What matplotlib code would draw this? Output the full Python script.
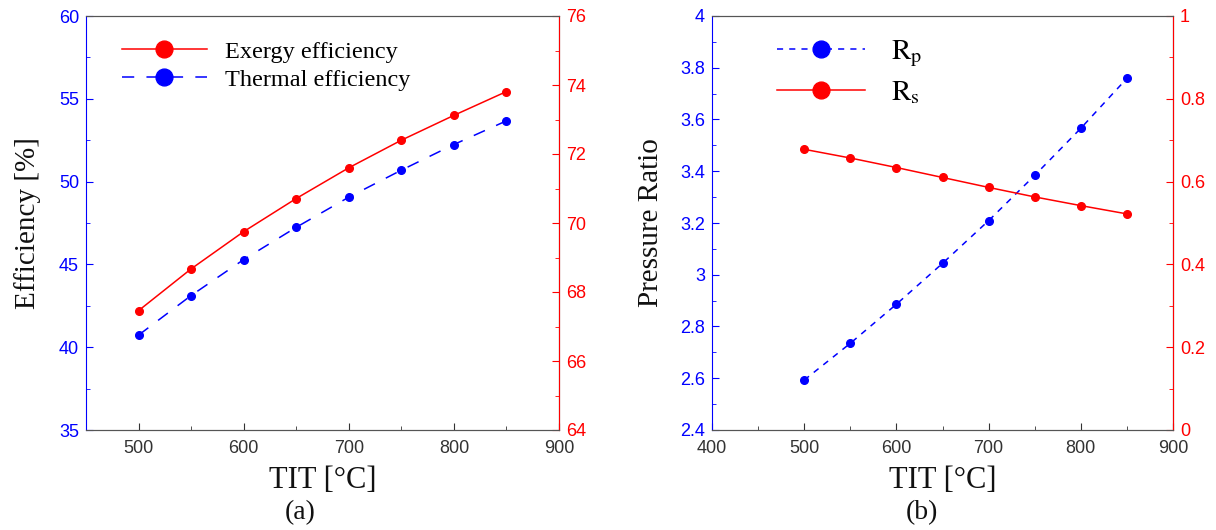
import numpy as np
import matplotlib
matplotlib.use("Agg")
import matplotlib.pyplot as plt
from matplotlib.ticker import MultipleLocator, FormatStrFormatter

plt.rcParams['font.family'] = ['Liberation Sans', 'DejaVu Sans']
plt.rcParams['mathtext.fontset'] = 'stix'

#> Data
tit = [500, 550, 600, 650, 700, 750, 800, 850]
exergyEff = [67.46, 68.67, 69.75, 70.71, 71.60, 72.40, 73.12, 73.81]
thermalEff = [40.73, 43.12, 45.29, 47.24, 49.06, 50.69, 52.24, 53.67]
rp = [2.593, 2.735, 2.886, 3.044, 3.209, 3.384, 3.566, 3.759]
rs = [0.678, 0.657, 0.634, 0.610, 0.586, 0.563, 0.542, 0.522]

serif = ['Liberation Serif', 'DejaVu Serif']
blue = '#0000ff'
red = '#ff0000'
spineGray = '#555555'

fig = plt.figure(figsize=(12.16, 5.30), dpi=100)
W, H = 1216, 530


def makeAxes(x0, x1):
    return fig.add_axes([x0 / W, (H - 430) / H, (x1 - x0) / W, 414 / H])


def styleAxes(ax, axR):
    for a in (ax, axR):
        a.spines['top'].set_color(spineGray)
        a.spines['bottom'].set_color(spineGray)
    ax.spines['left'].set_color(blue)
    axR.spines['right'].set_color(red)
    axR.spines['left'].set_visible(False)
    ax.tick_params(axis='both', which='both', direction='in', labelsize=13)
    ax.tick_params(axis='both', which='major', length=5)
    ax.tick_params(axis='both', which='minor', length=3)
    ax.tick_params(axis='x', which='major', colors='#333333', pad=7)
    ax.tick_params(axis='x', which='minor', colors='#333333')
    ax.tick_params(axis='y', which='both', colors=blue, pad=5)
    axR.tick_params(axis='y', which='both', direction='in', colors=red,
                    labelsize=13, pad=5)
    axR.tick_params(axis='y', which='major', length=5)
    axR.tick_params(axis='y', which='minor', length=3)
    ax.set_xlabel('TIT [°C]', family=serif, fontsize=22, color='#111111')
    ax.xaxis.set_label_coords(0.5, -(466 - 430) / 414)


#> Panel (a)
ax1 = makeAxes(86, 559)
ax1r = ax1.twinx()
l2, = ax1.plot(tit, thermalEff, color=blue, lw=1.1, marker='o', ms=5.5,
               dashes=(8, 8), label='Thermal efficiency')
l1, = ax1r.plot(tit, exergyEff, color=red, lw=1.1, marker='o', ms=5.5,
                label='Exergy efficiency')
ax1.set_xlim(450, 900)
ax1.set_ylim(35, 60)
ax1r.set_ylim(64, 76)
ax1.xaxis.set_major_locator(MultipleLocator(100))
ax1.xaxis.set_minor_locator(MultipleLocator(50))
ax1.yaxis.set_major_locator(MultipleLocator(5))
ax1.yaxis.set_minor_locator(MultipleLocator(2.5))
ax1r.yaxis.set_major_locator(MultipleLocator(2))
ax1r.yaxis.set_minor_locator(MultipleLocator(1))
styleAxes(ax1, ax1r)
ax1.set_ylabel('Efficiency [%]', family=serif, fontsize=21, color='#111111')
ax1.yaxis.set_label_coords(-(86 - 41) / 473, 0.5)
ax1r.legend([l1, l2], ['Exergy efficiency', 'Thermal efficiency'],
            loc='upper left', bbox_to_anchor=(0.076, 0.94), frameon=False,
            prop={'family': serif, 'size': 17.5}, handlelength=3.5,
            handletextpad=0.75, markerscale=2.2, borderaxespad=0, borderpad=0,
            labelspacing=0.25)

#> Panel (b)
ax2 = makeAxes(712, 1173)
ax2r = ax2.twinx()
l3, = ax2.plot(tit, rp, color=blue, lw=1.1, marker='o', ms=5.5,
               dashes=(4, 4), label='Rp')
l4, = ax2r.plot(tit, rs, color=red, lw=1.1, marker='o', ms=5.5, label='Rs')
ax2.set_xlim(400, 900)
ax2.set_ylim(2.4, 4)
ax2r.set_ylim(0, 1)
ax2.xaxis.set_major_locator(MultipleLocator(100))
ax2.xaxis.set_minor_locator(MultipleLocator(50))
ax2.yaxis.set_major_locator(MultipleLocator(0.2))
ax2.yaxis.set_minor_locator(MultipleLocator(0.1))
ax2.yaxis.set_major_formatter(FormatStrFormatter('%g'))
ax2r.yaxis.set_major_locator(MultipleLocator(0.2))
ax2r.yaxis.set_minor_locator(MultipleLocator(0.1))
ax2r.yaxis.set_major_formatter(FormatStrFormatter('%g'))
styleAxes(ax2, ax2r)
ax2.set_ylabel('Pressure Ratio', family=serif, fontsize=21, color='#111111')
ax2.yaxis.set_label_coords(-(712 - 664) / 461, 0.5)
ax2r.legend([l3, l4], [r'$\mathrm{R_p}$', r'$\mathrm{R_s}$'],
            loc='upper left', bbox_to_anchor=(0.141, 0.948), frameon=False,
            prop={'size': 21}, handlelength=3.0, handletextpad=0.9,
            markerscale=2.2, borderaxespad=0, borderpad=0, labelspacing=0.3)

fig.text(300 / W, 1 - 513 / H, '(a)', family=serif, fontsize=20,
         ha='center', va='center', color='#111111')
fig.text(922 / W, 1 - 513 / H, '(b)', family=serif, fontsize=20,
         ha='center', va='center', color='#111111')

fig.savefig('out.png', dpi=100)
